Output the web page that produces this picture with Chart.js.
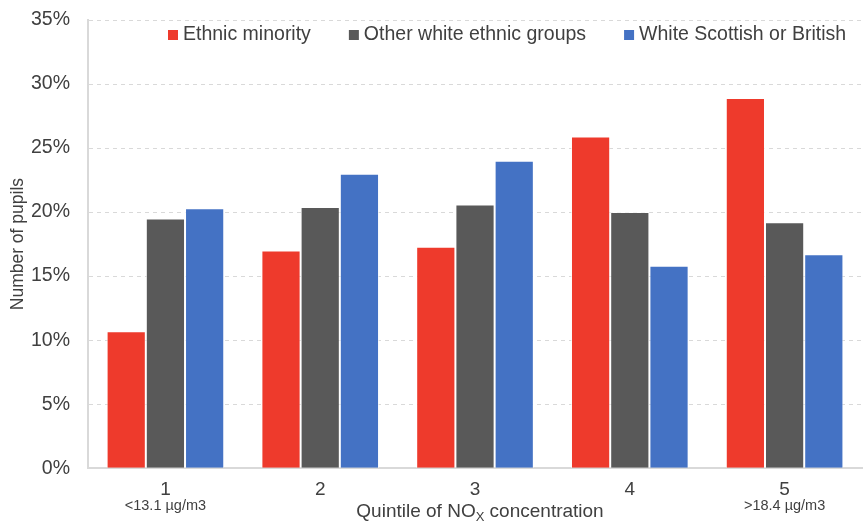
<!DOCTYPE html>
<html>
<head>
<meta charset="utf-8">
<title>Pupils by quintile of NOx concentration</title>
<script src="https://cdn.jsdelivr.net/npm/chart.js@4.4.1/dist/chart.umd.min.js"></script>
<style>
  html, body { margin: 0; padding: 0; background: #fff; }
  #wrap { width: 863px; height: 521px; position: relative; }
</style>
</head>
<body>
<div id="wrap"><canvas id="myChart"></canvas></div>
<script>
// data (percent of pupils)
var quintiles = ['1', '2', '3', '4', '5'];
var quintileNotes = ['<13.1 \u00b5g/m3', '', '', '', '>18.4 \u00b5g/m3'];
var seriesNames = ['Ethnic minority', 'Other white ethnic groups', 'White Scottish or British'];
var ethnicMinority = [10.7, 17.0, 17.3, 25.9, 28.9];
var otherWhite = [19.5, 20.4, 20.6, 20.0, 19.2];
var whiteScottish = [20.3, 23.0, 24.0, 15.8, 16.7];
var yTicks = [0, 5, 10, 15, 20, 25, 30, 35];

var colours = ['#EE3A2C', '#595959', '#4472C4'];
var textColour = '#404040';
var fontName = '"Liberation Sans", Arial, sans-serif';

var $chart = document.getElementById('myChart');

// legend drawn inside the plot area, top
var legendInside = {
	id: 'legendInside',
	afterDraw: function(chart) {
		var ctx = chart.ctx;
		ctx.save();
		ctx.font = '19.5px ' + fontName;
		ctx.textBaseline = 'middle';
		var x = 168, y = 35;
		chart.data.datasets.forEach(function(ds) {
			ctx.fillStyle = ds.backgroundColor;
			ctx.fillRect(x, y - 5, 10, 10);
			ctx.fillStyle = textColour;
			ctx.textAlign = 'left';
			ctx.fillText(ds.label, x + 15, y);
			x += 15 + ctx.measureText(ds.label).width + 38;
		});
		ctx.restore();
	}
};

// small notes under ticks 1 and 5, plus the axis title with subscript
var xExtras = {
	id: 'xExtras',
	afterDraw: function(chart) {
		var ctx = chart.ctx;
		var xs = chart.scales.x;
		ctx.save();
		ctx.fillStyle = textColour;
		ctx.textBaseline = 'middle';
		ctx.textAlign = 'center';
		ctx.font = '14.5px ' + fontName;
		for (var i = 0; i < quintileNotes.length; i++) {
			if (quintileNotes[i]) {
				ctx.fillText(quintileNotes[i], xs.getPixelForValue(i), 506);
			}
		}
		// title: "Quintile of NO" + sub X + " concentration"
		var a = 'Quintile of NO', b = 'X', c = ' concentration';
		ctx.font = '19px ' + fontName;
		var wa = ctx.measureText(a).width, wc = ctx.measureText(c).width;
		ctx.font = '13px ' + fontName;
		var wb = ctx.measureText(b).width;
		var total = wa + wb + wc;
		var cx = (chart.chartArea.left + chart.chartArea.right) / 2 + 5;
		var x0 = cx - total / 2;
		ctx.textAlign = 'left';
		ctx.font = '19px ' + fontName;
		ctx.fillText(a, x0, 512);
		ctx.font = '13px ' + fontName;
		ctx.fillText(b, x0 + wa, 517);
		ctx.font = '19px ' + fontName;
		ctx.fillText(c, x0 + wa + wb, 512);
		ctx.restore();
	}
};

var data = {
	labels: quintiles,
	datasets: [
		{ label: seriesNames[0], data: ethnicMinority, backgroundColor: colours[0] },
		{ label: seriesNames[1], data: otherWhite, backgroundColor: colours[1] },
		{ label: seriesNames[2], data: whiteScottish, backgroundColor: colours[2] }
	].map(function(ds) {
		ds.borderColor = 'rgba(255,255,255,0.7)';
		ds.borderWidth = 1;
		ds.categoryPercentage = 0.76;
		ds.barPercentage = 1.0;
		return ds;
	})
};

var myChart = new Chart($chart, {
	type: 'bar',
	data: data,
	plugins: [legendInside, xExtras],
	options: {
		responsive: true,
		maintainAspectRatio: false,
		animation: false,
		layout: { padding: { top: 20, right: 1, bottom: 10, left: 8 } },
		plugins: {
			legend: { display: false },
			tooltip: { enabled: false }
		},
		scales: {
			x: {
				grid: { display: false, drawTicks: false },
				border: { display: true, color: '#d9d9d9', width: 2 },
				ticks: { color: textColour, font: { family: fontName, size: 19 }, padding: 10 }
			},
			y: {
				min: 0,
				max: 35,
				afterBuildTicks: function(scale) {
					scale.ticks = yTicks.map(function(v) { return { value: v }; });
				},
				afterFit: function(scale) {
					scale.width -= 18; // pull tick labels up to the title
					scale.paddingTop = 0;
					scale.paddingBottom = 0;
				},
				grid: { color: '#d9d9d9', drawTicks: false },
				border: { display: true, color: '#d9d9d9', width: 2, dash: [4, 4] },
				ticks: {
					color: textColour,
					font: { family: fontName, size: 19.5 },
					padding: 18,
					callback: function(v) { return v + '%'; }
				},
				title: {
					display: true,
					text: 'Number of pupils',
					color: textColour,
					font: { family: fontName, size: 17.5 },
					padding: { top: 0, bottom: 2 }
				}
			}
		}
	}
});
</script>
</body>
</html>
